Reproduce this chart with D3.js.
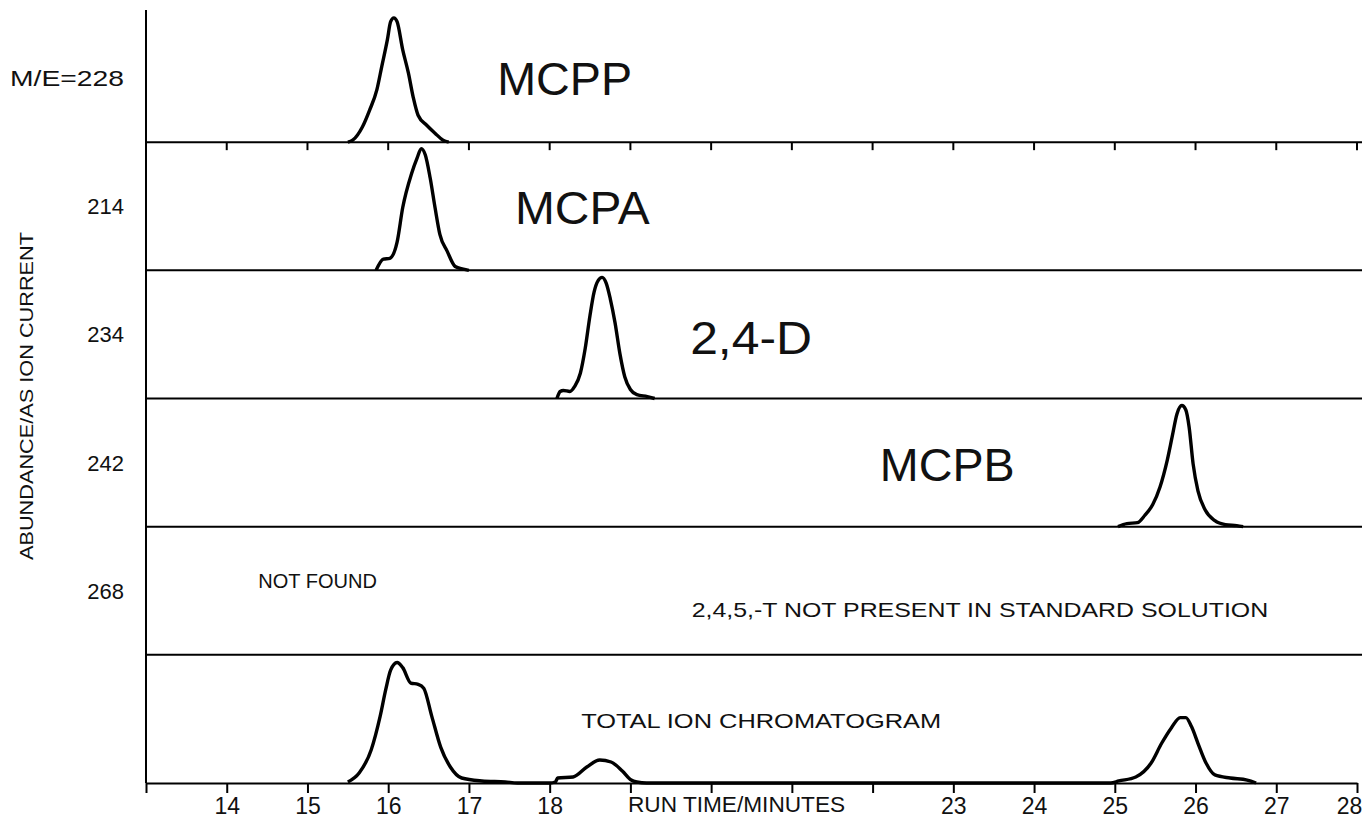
<!DOCTYPE html>
<html>
<head>
<meta charset="utf-8">
<script src="https://cdn.jsdelivr.net/npm/d3@7"></script>
<style>
  body { margin: 0; background: #fff; }
  text { font-family: "Liberation Sans", Arial, sans-serif; fill: #111; }
  .trace { fill: none; stroke: #000; stroke-width: 3.4; stroke-linejoin: round; }
  .rule { stroke: #000; stroke-width: 2; }
</style>
</head>
<body>
<script>
var width = 1364, height = 828;

// panels, top to bottom
var massLabels = ["M/E=228", "214", "234", "242", "268", ""];

// run time in minutes, abundance in % of panel height
var mcpp = [[15.50,0],[15.56,1.5],[15.68,11.8],[15.77,25],[15.86,41],[15.92,59],[15.99,80],[16.03,94],
  [16.07,97],[16.11,94],[16.18,72],[16.25,54],[16.31,35],[16.37,21],[16.48,13],[16.58,7],[16.68,1.5],[16.75,0]];
var mcpa = [[15.85,0],[15.94,8.7],[16.02,9.4],[16.11,22],[16.18,49],[16.29,75.6],[16.36,88],[16.41,95],
  [16.46,90],[16.52,72],[16.58,49],[16.64,28],[16.73,15],[16.83,3],[16.93,1],[17.0,0]];
var d24 = [[18.09,0],[18.13,5.5],[18.17,6.3],[18.25,5.5],[18.31,9.4],[18.38,19.7],[18.44,39],[18.50,65],
  [18.55,83],[18.60,92],[18.65,94.5],[18.70,90],[18.75,78],[18.81,59],[18.87,35],[18.93,17],[19.00,7],
  [19.08,3],[19.21,1.5],[19.3,0]];
var mcpb = [[25.04,0],[25.15,2.4],[25.28,3.1],[25.37,8.7],[25.47,17.3],[25.56,31],[25.65,52],[25.71,70],
  [25.77,88],[25.83,94.5],[25.88,91],[25.92,78],[25.97,49],[26.03,28],[26.12,13],[26.24,4.7],[26.37,1.6],
  [26.51,0.8],[26.59,0]];
var tic = [[15.50,0.8],[15.64,7.8],[15.79,26],[15.90,52],[15.97,73],[16.03,88],[16.11,94],[16.18,90],
  [16.28,78],[16.37,77],[16.44,74],[16.54,52],[16.65,28],[16.77,12.5],[16.91,3.9],[17.16,1.6],[17.45,0.8],
  [17.6,0],[18.0,0],[18.07,0.8],[18.10,3.9],[18.29,4.7],[18.46,12.5],[18.62,18],[18.76,16.4],[18.90,9.4],
  [19.01,2.3],[19.08,0.8],[19.2,0],[24.95,0],[25.05,1.6],[25.26,4.7],[25.45,15.6],[25.58,31],[25.70,43],
  [25.81,51],[25.88,51],[25.95,44],[26.03,31],[26.13,15.6],[26.24,6.3],[26.43,3.9],[26.64,2.3],[26.75,0]];

var tickMinutes = d3.range(13, 29);
var tickLabels = ["", "14", "15", "16", "17", "18", "", "", "", "", "23", "24", "25", "26", "27", "28"];

// annotations: text, panel, start/end minute, level in %
var notes = [
  {text: "MCPP", panel: 0, t0: 17.35, t1: 19.02, level: 36.8, size: 46},
  {text: "MCPA", panel: 1, t0: 17.57, t1: 19.24, level: 36.1, size: 46},
  {text: "2,4-D", panel: 2, t0: 19.74, t1: 21.25, level: 34.7, size: 46},
  {text: "MCPB", panel: 3, t0: 22.09, t1: 23.76, level: 35.6, size: 46},
  {text: "NOT FOUND", panel: 4, t0: 14.39, t1: 15.86, level: 52.1, size: 20},
  {text: "2,4,5,-T NOT PRESENT IN STANDARD SOLUTION", panel: 4, t0: 19.76, t1: 26.90, level: 29.5, size: 21},
  {text: "TOTAL ION CHROMATOGRAM", panel: 5, t0: 18.39, t1: 22.85, level: 42.9, size: 20}
];

var svg = d3.select("body").append("svg")
  .attr("width", width)
  .attr("height", height);

var x = d3.scaleLinear().domain([13, 28]).range([146, 1357]);
var panel = d3.scaleBand().domain(d3.range(6)).range([14, 783]);

function yScale(i) {
  return d3.scaleLinear().domain([0, 100])
    .range([panel(i) + panel.bandwidth(), panel(i)]);
}

// panel separators
svg.selectAll(".sep")
  .data(d3.range(5))
  .enter().append("line")
    .attr("class", "rule")
    .attr("x1", x(13)).attr("x2", 1362)
    .attr("y1", function(i) { return yScale(i)(0); })
    .attr("y2", function(i) { return yScale(i)(0); });

// minute ticks under the first panel
svg.selectAll(".topTick")
  .data(tickMinutes.slice(1))
  .enter().append("line")
    .attr("class", "rule")
    .attr("x1", x).attr("x2", x)
    .attr("y1", yScale(0)(0))
    .attr("y2", yScale(0)(0) + 8);

// left axis line
svg.append("line")
  .attr("class", "rule")
  .attr("x1", x(13)).attr("x2", x(13))
  .attr("y1", 10).attr("y2", yScale(5)(0));

// bottom axis
var xAxis = svg.append("g")
  .attr("transform", "translate(0," + yScale(5)(0) + ")")
  .call(d3.axisBottom(x)
    .tickValues(tickMinutes)
    .tickSize(10)
    .tickSizeOuter(0)
    .tickFormat(function(d, i) { return tickLabels[i]; }));

xAxis.select(".domain").attr("stroke", "#000").attr("stroke-width", 2);
xAxis.selectAll(".tick line").attr("stroke", "#000").attr("stroke-width", 2);
xAxis.selectAll(".tick text")
  .attr("y", 15)
  .attr("x", function(d) { return d === 28 ? -8 : 0; })
  .attr("fill", "#111")
  .style("font-size", "23px")
  .style("font-family", "'Liberation Sans', Arial, sans-serif");

svg.append("text")
  .attr("x", x(18.97))
  .attr("y", yScale(5)(0) + 29)
  .attr("textLength", x(21.66) - x(18.97))
  .attr("lengthAdjust", "spacingAndGlyphs")
  .style("font-size", "22px")
  .text("RUN TIME/MINUTES");

// mass labels
svg.selectAll(".mass")
  .data(massLabels)
  .enter().append("text")
    .attr("x", 124)
    .attr("y", function(d, i) { return panel(i) + panel.bandwidth() / 2 + 8; })
    .attr("text-anchor", "end")
    .attr("textLength", function(d) { return d.length > 3 ? 114 : null; })
    .attr("lengthAdjust", "spacingAndGlyphs")
    .style("font-size", "22px")
    .text(function(d) { return d; });

svg.append("text")
  .attr("transform", "translate(33," + 396 + ")rotate(-90)")
  .attr("text-anchor", "middle")
  .attr("textLength", 328)
  .attr("lengthAdjust", "spacingAndGlyphs")
  .style("font-size", "19px")
  .text("ABUNDANCE/AS ION CURRENT");

// traces
var traces = [
  {panel: 0, pts: mcpp},
  {panel: 1, pts: mcpa},
  {panel: 2, pts: d24},
  {panel: 3, pts: mcpb},
  {panel: 5, pts: tic}
];

traces.forEach(function(tr) {
  var y = yScale(tr.panel);
  var line = d3.line()
    .x(function(d) { return x(d[0]); })
    .y(function(d) { return y(d[1]); })
    .curve(d3.curveMonotoneX);
  svg.append("path")
    .datum(tr.pts)
    .attr("class", "trace")
    .attr("d", line);
});

// annotations
svg.selectAll(".note")
  .data(notes)
  .enter().append("text")
    .attr("x", function(d) { return x(d.t0); })
    .attr("y", function(d) { return yScale(d.panel)(d.level); })
    .attr("textLength", function(d) { return x(d.t1) - x(d.t0); })
    .attr("lengthAdjust", "spacingAndGlyphs")
    .style("font-size", function(d) { return d.size + "px"; })
    .text(function(d) { return d.text; });
</script>
</body>
</html>
